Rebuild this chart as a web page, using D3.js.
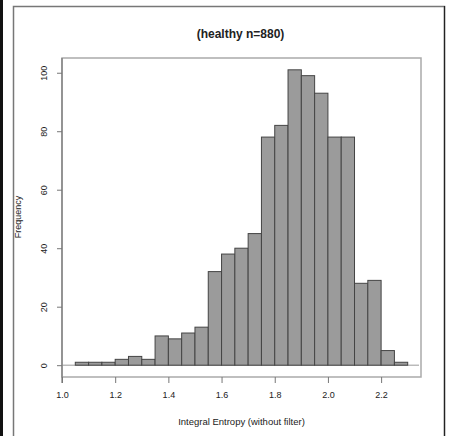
<!DOCTYPE html>
<html lang="en">
<head>
<meta charset="utf-8">
<script src="https://d3js.org/d3.v7.min.js"></script>
<style>
  body { margin: 0; background: #fff; }
  svg { display: block; font-family: "Liberation Sans", Arial, sans-serif; }
</style>
</head>
<body>
<svg id="chart" width="449" height="436"></svg>
<script>
// histogram bins (width 0.05) and counts
const binStart = 1.05;
const binWidth = 0.05;
const counts = [1, 1, 1, 2, 3, 2, 10, 9, 11, 13, 32, 38, 40, 45, 78, 82, 101, 99, 93, 78, 78, 28, 29, 5, 1];
const xTicks = [1.0, 1.2, 1.4, 1.6, 1.8, 2.0, 2.2];
const yTicks = [0, 20, 40, 60, 80, 100];
const title = "(healthy n=880)";
const xTitle = "Integral Entropy (without filter)";
const yTitle = "Frequency";

const bins = counts.map((c, i) => ({ x0: binStart + i * binWidth, x1: binStart + (i + 1) * binWidth, n: c }));

const svg = d3.select("#chart");

// outer frame of the figure
svg.append("rect").attr("x", 0).attr("y", 0).attr("width", 3).attr("height", 436).attr("fill", "#111");
svg.append("path").attr("d", "M13.5,436 V6.5 H444.5 V436")
  .attr("fill", "none").attr("stroke", "#777").attr("stroke-width", 1.5);
svg.append("line").attr("x1", 444.5).attr("x2", 444.5).attr("y1", 6).attr("y2", 436)
  .attr("stroke", "#222").attr("stroke-width", 1.2);

// plot region (R style 4% padding)
const box = { left: 62, right: 421, top: 58, bottom: 377 };
const xLo = 1.05, xHi = 2.30, yMax = d3.max(counts);
const padX = (xHi - xLo) * 0.04, padY = yMax * 0.04;

const x = d3.scaleLinear().domain([xLo - padX, xHi + padX]).range([box.left, box.right]);
const y = d3.scaleLinear().domain([-padY, yMax + padY]).range([box.bottom, box.top]);

// zero line
svg.append("line")
  .attr("x1", box.left).attr("x2", box.right - 2)
  .attr("y1", y(0)).attr("y2", y(0))
  .attr("stroke", "#999").attr("stroke-width", 1);

// bars
svg.append("g").selectAll("rect")
  .data(bins)
  .enter()
  .append("rect")
    .attr("x", d => x(d.x0))
    .attr("y", d => y(d.n))
    .attr("width", d => x(d.x1) - x(d.x0))
    .attr("height", d => y(0) - y(d.n))
    .attr("fill", "#9b9b9b")
    .attr("stroke", "#444")
    .attr("stroke-width", 1);

// box
svg.append("rect")
  .attr("x", box.left).attr("y", box.top)
  .attr("width", box.right - box.left).attr("height", box.bottom - box.top)
  .attr("fill", "none").attr("stroke", "#aaa").attr("stroke-width", 1.5);

// y axis
const yAxis = d3.axisLeft(y).tickValues(yTicks).tickSize(5);
const yG = svg.append("g").attr("transform", `translate(${box.left},0)`).call(yAxis);
yG.select(".domain").remove();
yG.append("line").attr("x1", 0).attr("x2", 0).attr("y1", box.top).attr("y2", 383)
  .attr("stroke", "#777").attr("stroke-width", 1.2);
yG.selectAll(".tick line").attr("stroke", "#777");
yG.selectAll(".tick text")
  .attr("font-size", 9).attr("fill", "#222")
  .attr("transform", "rotate(-90)")
  .attr("x", 0).attr("y", -18).attr("dy", "0.35em")
  .style("text-anchor", "middle");

// x axis
const xAxis = d3.axisBottom(x).tickValues(xTicks).tickSize(6).tickPadding(9).tickFormat(d3.format(".1f"));
const xG = svg.append("g").attr("transform", `translate(0,${box.bottom})`).call(xAxis);
xG.select(".domain").remove();
xG.selectAll(".tick line").attr("stroke", "#777");
xG.selectAll(".tick text").attr("font-size", 9).attr("fill", "#222");

// titles
svg.append("text")
  .attr("x", (box.left + box.right) / 2 - 1).attr("y", 38)
  .attr("text-anchor", "middle").attr("font-size", 12).attr("font-weight", 700).attr("fill", "#222")
  .text(title);

svg.append("text")
  .attr("x", (box.left + box.right) / 2).attr("y", 425)
  .attr("text-anchor", "middle").attr("font-size", 9.5).attr("fill", "#222")
  .text(xTitle);

svg.append("text")
  .attr("transform", "translate(21,217) rotate(-90)")
  .attr("text-anchor", "middle").attr("font-size", 9).attr("fill", "#222")
  .text(yTitle);
</script>
</body>
</html>
